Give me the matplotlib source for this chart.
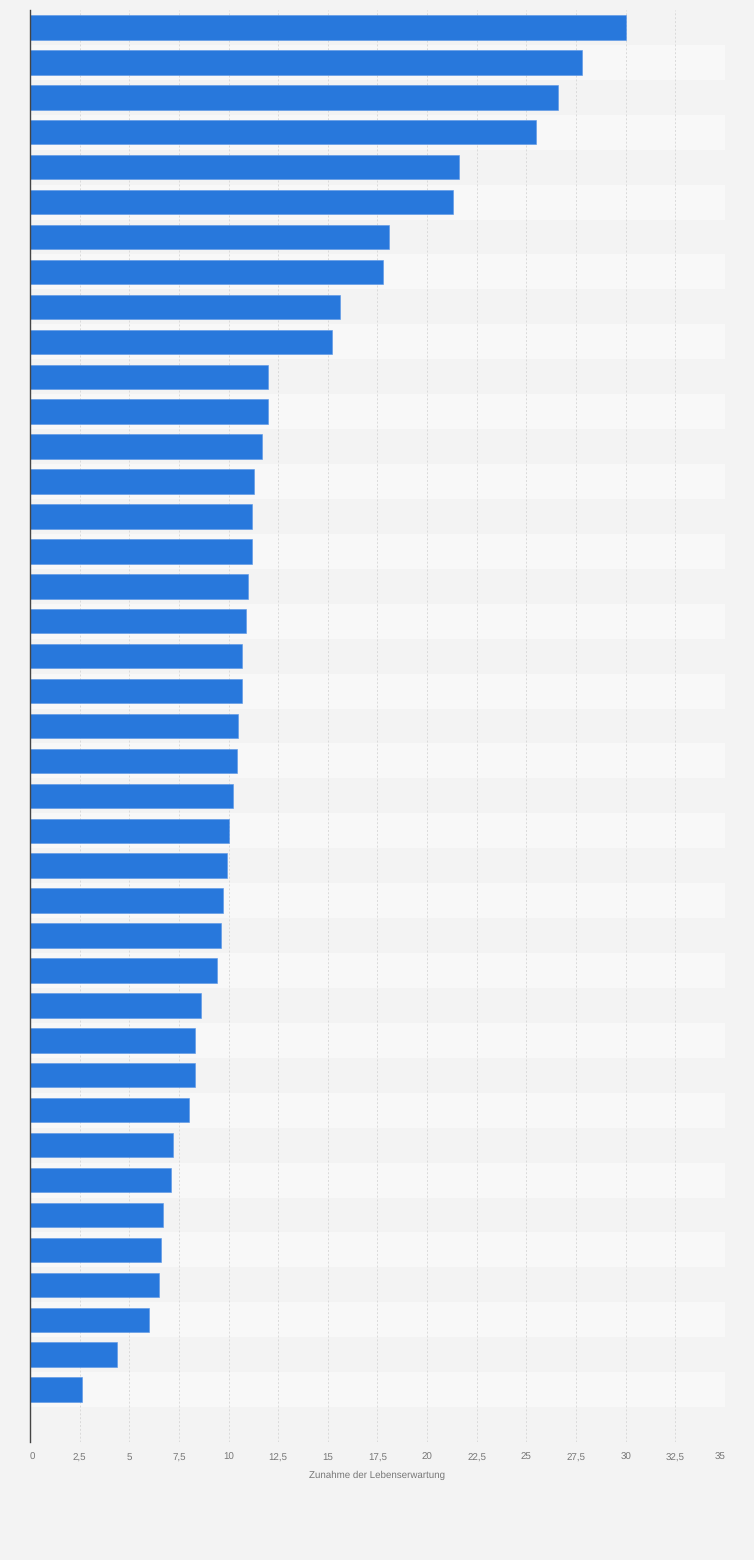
import matplotlib.pyplot as plt

# increase in life expectancy, 40 categories (labels not shown in the chart)
values = [30.0, 27.8, 26.6, 25.5, 21.6, 21.3, 18.1, 17.8, 15.6, 15.2,
          12.0, 12.0, 11.7, 11.3, 11.2, 11.2, 11.0, 10.9, 10.7, 10.7,
          10.5, 10.4, 10.2, 10.0, 9.9, 9.7, 9.6, 9.4, 8.6, 8.3,
          8.3, 8.0, 7.2, 7.1, 6.7, 6.6, 6.5, 6.0, 4.4, 2.6]
n_rows = len(values) + 1  # one empty row at the bottom
xticks = [0, 2.5, 5, 7.5, 10, 12.5, 15, 17.5, 20, 22.5, 25, 27.5, 30, 32.5, 35]
xlabel = 'Zunahme der Lebenserwartung'

plt.rcParams['font.family'] = ['Liberation Sans', 'DejaVu Sans']
plt.rcParams['text.hinting'] = 'none'

fig = plt.figure(figsize=(7.54, 15.6), dpi=100, facecolor='#f3f3f3')
ax = fig.add_axes([30/754, 1 - 1442/1560, 695/754, 1432/1560])
ax.set_facecolor('#f3f3f3')

# alternating row bands
for i in range(n_rows):
    ax.axhspan(i - 0.5, i + 0.5, color='#f3f3f3' if i % 2 == 0 else '#f8f8f8', lw=0, zorder=0)

ax.barh(range(len(values)), values, height=0.7, color='#2878dc',
        edgecolor='#5a96e6', linewidth=0.4, zorder=3)

ax.set_xlim(0, 35)
ax.set_ylim(n_rows - 0.5, -0.5)
ax.set_yticks([])
ax.set_xticks(xticks)
ax.set_xticklabels([f'{t:g}'.replace('.', ',') for t in xticks], fontsize=7, color='#777777')
ax.tick_params(axis='x', length=0, pad=8)
labs = ax.get_xticklabels()
labs[0].set_ha('left')
labs[-1].set_ha('right')
ax.grid(axis='x', color='#dadada', linestyle=(0, (2, 2)), linewidth=0.7, zorder=1)
ax.set_axisbelow(True)

for s in ['top', 'right', 'bottom']:
    ax.spines[s].set_visible(False)
ax.spines['left'].set_color('#444444')
ax.spines['left'].set_linewidth(1)
ax.spines['left'].set_zorder(4)

ax.set_xlabel(xlabel, fontsize=7, color='#777777', labelpad=6)

fig.savefig('out.png', dpi=100, facecolor=fig.get_facecolor())
